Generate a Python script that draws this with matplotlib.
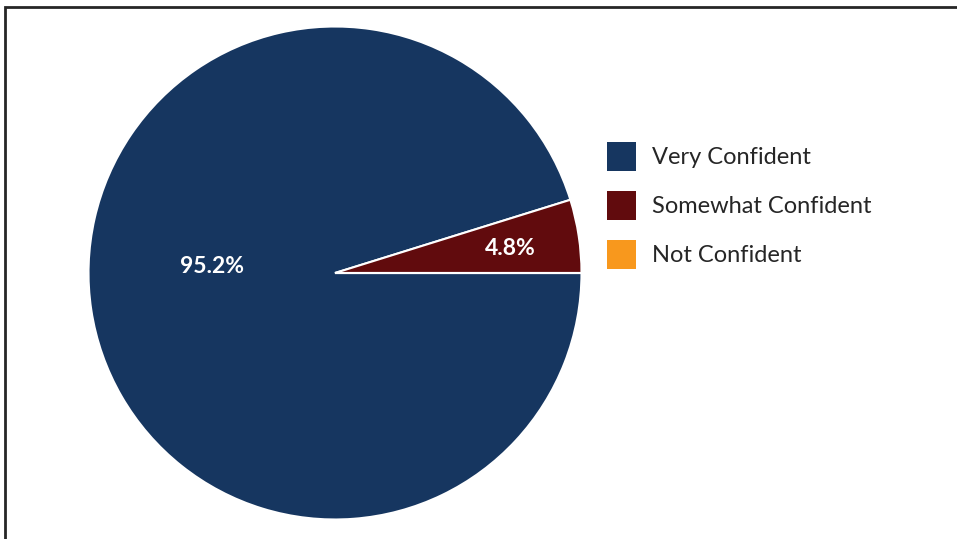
import matplotlib
matplotlib.use("Agg")
import matplotlib.pyplot as plt
from matplotlib.patches import Patch, Rectangle

# confidence survey responses (percent)
categories = ["Very Confident", "Somewhat Confident", "Not Confident"]
shares = [95.2, 4.8, 0.0]
colors = ["#163660", "#610b0d", "#f8981d"]

plt.rcParams["font.family"] = ["Lato", "DejaVu Sans"]

fig = plt.figure(figsize=(9.57, 5.39), dpi=100)

# thin dark frame around the chart area
fig.patches.append(Rectangle((4.5 / 957, -0.1), 1.2, 1.1 - 6.5 / 539,
                             transform=fig.transFigure, fill=False,
                             edgecolor="#262626", linewidth=2.0))

ax = fig.add_axes([88.5 / 957, 19.5 / 539, 493 / 957, 493 / 539])
wedges, _ = ax.pie(shares, colors=colors, startangle=0, counterclock=False,
                   radius=1.0, wedgeprops=dict(edgecolor="white", linewidth=1.5))
ax.set_xlim(-1, 1)
ax.set_ylim(-1, 1)
ax.set_aspect("equal")
ax.axis("off")

# data labels inside the slices
label_pos = [(-0.5, 0.025), (0.71, 0.10)]
for (x, y), val in zip(label_pos, shares[:2]):
    ax.text(x, y, f"{val:.1f}%", ha="center", va="center", color="white",
            fontsize=16.5, fontweight="bold")

handles = [Patch(facecolor=c, edgecolor="none") for c in colors]
fig.legend(handles, categories, loc="upper left",
           bbox_to_anchor=(607 / 957, 1 - 142 / 539), frameon=False,
           fontsize=17, handlelength=1.23, handleheight=1.51,
           handletextpad=0.68, labelspacing=0.84, borderpad=0,
           borderaxespad=0, labelcolor="#262626")

fig.savefig("out.png", dpi=100)
